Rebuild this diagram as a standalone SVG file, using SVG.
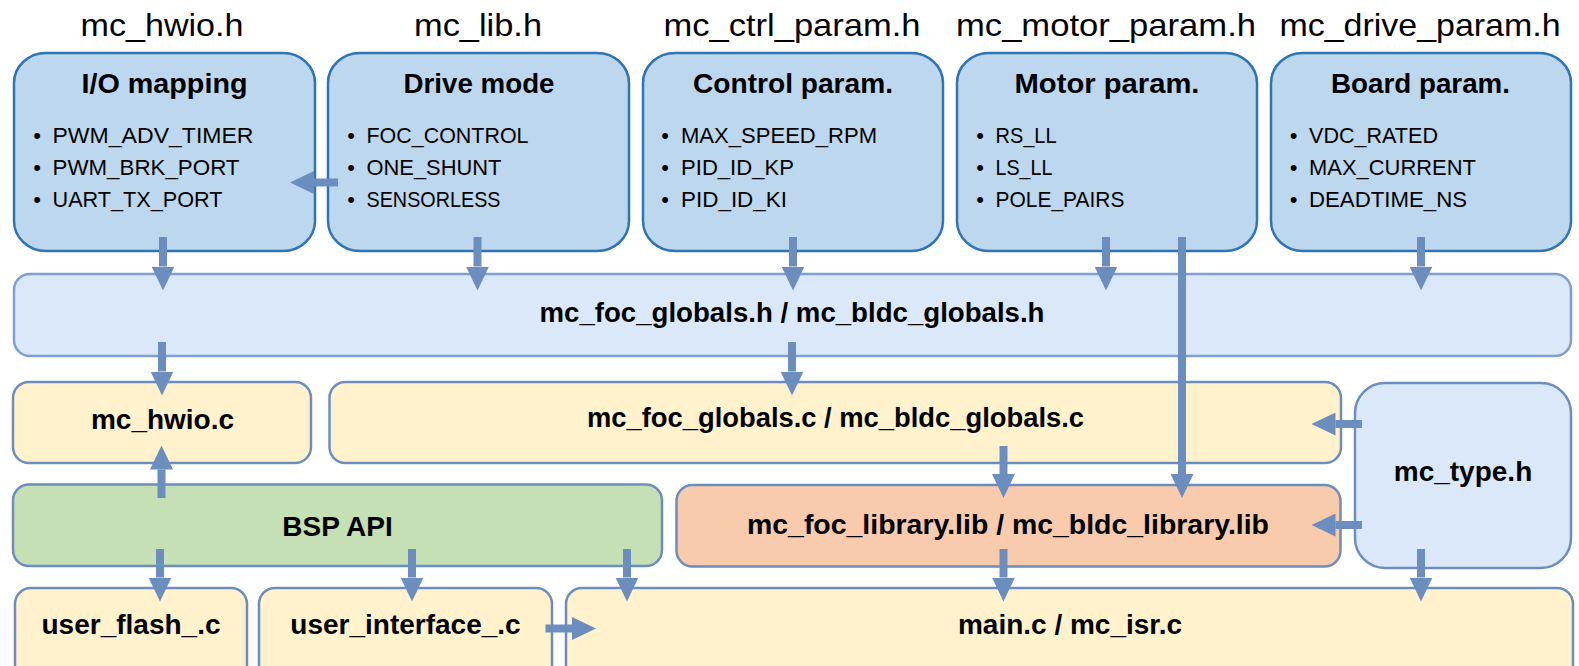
<svg xmlns="http://www.w3.org/2000/svg" width="1579" height="666" viewBox="0 0 1579 666">
<defs>
<style>
.hdr{font-family:"Liberation Sans",Arial,sans-serif;font-size:32px;fill:#000;text-anchor:middle}
.ttl{font-family:"Liberation Sans",Arial,sans-serif;font-size:28.5px;font-weight:bold;fill:#000;text-anchor:middle}
.lbl{font-family:"Liberation Sans",Arial,sans-serif;font-size:28px;font-weight:bold;fill:#000;text-anchor:middle}
.itm{font-family:"Liberation Sans",Arial,sans-serif;font-size:22.5px;fill:#000}
.bul{font-family:"Liberation Sans",Arial,sans-serif;font-size:22px;fill:#000;text-anchor:middle}
.top{fill:#bdd7ee;stroke:#2e75b6;stroke-width:2.5}
.glob{fill:#dae8fa;stroke:#7f9fcf;stroke-width:2.5}
.yel{fill:#fff2cc;stroke:#6c8ebf;stroke-width:2.5}
.grn{fill:#c5e0b4;stroke:#6c8ebf;stroke-width:2.5}
.org{fill:#f8cbad;stroke:#6c8ebf;stroke-width:2.5}
.typ{fill:#dae8fa;stroke:#6c8ebf;stroke-width:2.5}
.arr{stroke:#6c8ebf;stroke-width:8;fill:none;marker-end:url(#ah)}
</style>
<marker id="ah" markerUnits="userSpaceOnUse" viewBox="0 0 24 23" refX="0" refY="11.5" markerWidth="24" markerHeight="23" orient="auto">
<path d="M0,0 L24,11.5 L0,23 Z" fill="#6c8ebf"/>
</marker>
</defs>

<g id="io-mapping">
<text class="hdr" x="162" y="35.5" textLength="163" lengthAdjust="spacingAndGlyphs">mc_hwio.h</text>
<rect class="top" x="14" y="53" width="301" height="198" rx="32" ry="30"/>
<text class="ttl" x="164.5" y="93" textLength="166" lengthAdjust="spacingAndGlyphs">I/O mapping</text>
<text class="bul" x="37" y="142.5">•</text><text class="itm" x="52.5" y="142.5" textLength="201" lengthAdjust="spacingAndGlyphs">PWM_ADV_TIMER</text>
<text class="bul" x="37" y="174.5">•</text><text class="itm" x="52.5" y="174.5" textLength="187" lengthAdjust="spacingAndGlyphs">PWM_BRK_PORT</text>
<text class="bul" x="37" y="206.5">•</text><text class="itm" x="52.5" y="206.5" textLength="170" lengthAdjust="spacingAndGlyphs">UART_TX_PORT</text>
</g>

<g id="drive-mode">
<text class="hdr" x="478" y="35.5" textLength="128" lengthAdjust="spacingAndGlyphs">mc_lib.h</text>
<rect class="top" x="328" y="53" width="301" height="198" rx="32" ry="30"/>
<text class="ttl" x="479" y="93" textLength="151" lengthAdjust="spacingAndGlyphs">Drive mode</text>
<text class="bul" x="351" y="142.5">•</text><text class="itm" x="366.5" y="142.5" textLength="162" lengthAdjust="spacingAndGlyphs">FOC_CONTROL</text>
<text class="bul" x="351" y="174.5">•</text><text class="itm" x="366.5" y="174.5" textLength="135" lengthAdjust="spacingAndGlyphs">ONE_SHUNT</text>
<text class="bul" x="351" y="206.5">•</text><text class="itm" x="366.5" y="206.5" textLength="134" lengthAdjust="spacingAndGlyphs">SENSORLESS</text>
</g>

<g id="control-param">
<text class="hdr" x="792" y="35.5" textLength="257" lengthAdjust="spacingAndGlyphs">mc_ctrl_param.h</text>
<rect class="top" x="643" y="53" width="300" height="198" rx="32" ry="30"/>
<text class="ttl" x="793" y="93" textLength="200" lengthAdjust="spacingAndGlyphs">Control param.</text>
<text class="bul" x="665" y="142.5">•</text><text class="itm" x="681" y="142.5" textLength="196" lengthAdjust="spacingAndGlyphs">MAX_SPEED_RPM</text>
<text class="bul" x="665" y="174.5">•</text><text class="itm" x="681" y="174.5" textLength="113" lengthAdjust="spacingAndGlyphs">PID_ID_KP</text>
<text class="bul" x="665" y="206.5">•</text><text class="itm" x="681" y="206.5" textLength="106" lengthAdjust="spacingAndGlyphs">PID_ID_KI</text>
</g>

<g id="motor-param">
<text class="hdr" x="1106" y="35.5" textLength="300" lengthAdjust="spacingAndGlyphs">mc_motor_param.h</text>
<rect class="top" x="957" y="53" width="300" height="198" rx="32" ry="30"/>
<text class="ttl" x="1107" y="93" textLength="185" lengthAdjust="spacingAndGlyphs">Motor param.</text>
<text class="bul" x="980" y="142.5">•</text><text class="itm" x="995.5" y="142.5" textLength="61" lengthAdjust="spacingAndGlyphs">RS_LL</text>
<text class="bul" x="980" y="174.5">•</text><text class="itm" x="995.5" y="174.5" textLength="57" lengthAdjust="spacingAndGlyphs">LS_LL</text>
<text class="bul" x="980" y="206.5">•</text><text class="itm" x="995.5" y="206.5" textLength="129" lengthAdjust="spacingAndGlyphs">POLE_PAIRS</text>
</g>

<g id="board-param">
<text class="hdr" x="1420" y="35.5" textLength="281" lengthAdjust="spacingAndGlyphs">mc_drive_param.h</text>
<rect class="top" x="1271" y="53" width="300" height="198" rx="32" ry="30"/>
<text class="ttl" x="1420.5" y="93" textLength="179" lengthAdjust="spacingAndGlyphs">Board param.</text>
<text class="bul" x="1293.5" y="142.5">•</text><text class="itm" x="1309" y="142.5" textLength="129" lengthAdjust="spacingAndGlyphs">VDC_RATED</text>
<text class="bul" x="1293.5" y="174.5">•</text><text class="itm" x="1309" y="174.5" textLength="167" lengthAdjust="spacingAndGlyphs">MAX_CURRENT</text>
<text class="bul" x="1293.5" y="206.5">•</text><text class="itm" x="1309" y="206.5" textLength="158" lengthAdjust="spacingAndGlyphs">DEADTIME_NS</text>
</g>

<g id="globals-h">
<rect class="glob" x="14" y="274" width="1557" height="82" rx="16"/>
<text class="lbl" x="792" y="321.5" textLength="505" lengthAdjust="spacingAndGlyphs">mc_foc_globals.h / mc_bldc_globals.h</text>
</g>

<g id="hwio-c">
<rect class="yel" x="13" y="382" width="298" height="81" rx="16"/>
<text class="lbl" x="162.5" y="428.5">mc_hwio.c</text>
</g>

<g id="globals-c">
<rect class="yel" x="329.5" y="382" width="1011.5" height="81" rx="16"/>
<text class="lbl" x="835.5" y="427" textLength="497" lengthAdjust="spacingAndGlyphs">mc_foc_globals.c / mc_bldc_globals.c</text>
</g>

<g id="mc-type">
<rect class="typ" x="1355" y="383" width="216" height="185" rx="30"/>
<text class="lbl" x="1463" y="481">mc_type.h</text>
</g>

<g id="bsp-api">
<rect class="grn" x="13" y="484.5" width="649" height="81.5" rx="16"/>
<text class="lbl" x="337.5" y="535.5">BSP API</text>
</g>

<g id="library">
<rect class="org" x="676.5" y="485" width="664" height="81.5" rx="16"/>
<text class="lbl" x="1008" y="533.5" textLength="522" lengthAdjust="spacingAndGlyphs">mc_foc_library.lib / mc_bldc_library.lib</text>
</g>

<g id="user-flash">
<rect class="yel" x="15" y="588" width="232" height="100" rx="16"/>
<text class="lbl" x="131" y="634">user_flash_.c</text>
</g>

<g id="user-interface">
<rect class="yel" x="259" y="588" width="293" height="100" rx="16"/>
<text class="lbl" x="405.5" y="634">user_interface_.c</text>
</g>

<g id="main-c">
<rect class="yel" x="566" y="588" width="1007" height="100" rx="16"/>
<text class="lbl" x="1070" y="634">main.c / mc_isr.c</text>
</g>

<g id="connectors">
<line class="arr" x1="163" y1="237" x2="163" y2="266.5"/>
<line class="arr" x1="477.5" y1="237" x2="477.5" y2="266.5"/>
<line class="arr" x1="793" y1="237" x2="793" y2="266.5"/>
<line class="arr" x1="1106" y1="237" x2="1106" y2="266.5"/>
<line class="arr" x1="1421" y1="237" x2="1421" y2="266.5"/>
<line class="arr" x1="338" y1="182.5" x2="314" y2="182.5"/>
<line class="arr" x1="162" y1="342" x2="162" y2="371.5"/>
<line class="arr" x1="792" y1="342" x2="792" y2="371.5"/>
<line class="arr" x1="1182" y1="237" x2="1182" y2="474"/>
<line class="arr" x1="161.5" y1="498" x2="161.5" y2="469.5"/>
<line class="arr" x1="1362" y1="424" x2="1335.5" y2="424"/>
<line class="arr" x1="1362" y1="525" x2="1335.5" y2="525"/>
<line class="arr" x1="1003.5" y1="446" x2="1003.5" y2="474"/>
<line class="arr" x1="160" y1="549" x2="160" y2="577.5"/>
<line class="arr" x1="412" y1="549" x2="412" y2="577.5"/>
<line class="arr" x1="627" y1="549" x2="627" y2="577.5"/>
<line class="arr" x1="1003.5" y1="549" x2="1003.5" y2="577.5"/>
<line class="arr" x1="1421" y1="549" x2="1421" y2="577.5"/>
<line class="arr" x1="545.5" y1="628.5" x2="572" y2="628.5"/>
</g>
</svg>
